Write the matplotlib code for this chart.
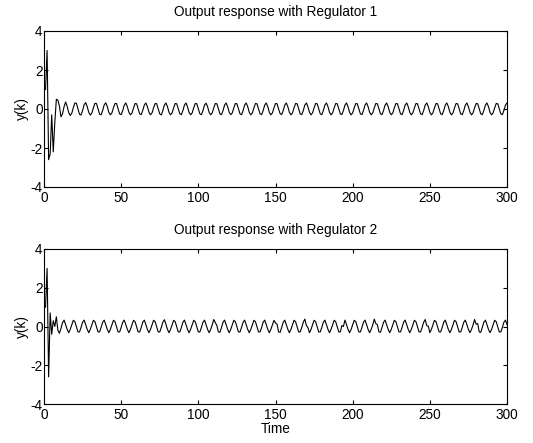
import numpy as np
import matplotlib
matplotlib.use('Agg')
import matplotlib.pyplot as plt

plt.rcParams['font.family'] = ['Liberation Sans', 'DejaVu Sans']
plt.rcParams['font.size'] = 9.8
plt.rcParams['axes.unicode_minus'] = False

# y(k), regulator 1
y1 = [1.0, 3.0, -2.6, -2.3, -0.3, -2.2, -0.7, 0.5, 0.45, 0.15, -0.4, -0.25, 0.12, 0.36,
      0.14, -0.18, -0.33, -0.22, 0.07, 0.31, 0.29, 0.01, -0.27, -0.31, -0.08, 0.22, 0.33,
      0.12, -0.17, -0.31, -0.21, 0.06, 0.29, 0.28, 0.00, -0.26, -0.30, -0.08, 0.21, 0.32,
      0.13, -0.17, -0.30, -0.20, 0.06, 0.28, 0.28, 0.01, -0.25, -0.29, -0.08, 0.20, 0.31,
      0.12, -0.17, -0.30, -0.21, 0.05, 0.28, 0.27, 0.00, -0.25, -0.29, -0.07, 0.20, 0.31,
      0.12, -0.16, -0.30, -0.20, 0.06, 0.28, 0.27, 0.00, -0.25, -0.30, -0.08, 0.20, 0.31,
      0.12, -0.17, -0.30, -0.20, 0.06, 0.28, 0.27, 0.00, -0.25, -0.29, -0.08, 0.20, 0.31,
      0.11, -0.17, -0.30, -0.20, 0.06, 0.28, 0.27, 0.01, -0.25, -0.29, -0.08, 0.20, 0.30,
      0.12, -0.17, -0.30, -0.20, 0.06, 0.28, 0.27, 0.00, -0.25, -0.29, -0.08, 0.20, 0.31,
      0.12, -0.17, -0.29, -0.20, 0.06, 0.28, 0.27, 0.00, -0.25, -0.29, -0.08, 0.20, 0.31,
      0.12, -0.17, -0.30, -0.20, 0.05, 0.28, 0.27, 0.00, -0.25, -0.29, -0.08, 0.20, 0.31,
      0.12, -0.17, -0.30, -0.20, 0.06, 0.28, 0.27, 0.00, -0.24, -0.29, -0.08, 0.20, 0.31,
      0.12, -0.17, -0.30, -0.20, 0.06, 0.28, 0.27, 0.00, -0.25, -0.29, -0.08, 0.20, 0.31,
      0.12, -0.17, -0.30, -0.20, 0.06, 0.28, 0.27, 0.00, -0.25, -0.29, -0.08, 0.20, 0.31,
      0.12, -0.17, -0.30, -0.20, 0.06, 0.28, 0.27, 0.00, -0.25, -0.29, -0.08, 0.20, 0.31,
      0.12, -0.17, -0.30, -0.20, 0.06, 0.28, 0.27, 0.00, -0.25, -0.29, -0.08, 0.20, 0.31,
      0.12, -0.17, -0.30, -0.20, 0.06, 0.28, 0.27, 0.00, -0.25, -0.29, -0.08, 0.20, 0.31,
      0.12, -0.17, -0.30, -0.20, 0.06, 0.28, 0.27, 0.00, -0.25, -0.29, -0.08, 0.20, 0.31,
      0.12, -0.17, -0.30, -0.20, 0.06, 0.28, 0.27, 0.00, -0.25, -0.29, -0.08, 0.20, 0.31,
      0.12, -0.17, -0.30, -0.20, 0.06, 0.28, 0.27, 0.00, -0.25, -0.29, -0.08, 0.20, 0.31,
      0.12, -0.17, -0.30, -0.20, 0.06, 0.28, 0.27, 0.00, -0.25, -0.29, -0.08, 0.20, 0.31,
      0.12, -0.17, -0.30, -0.20, 0.06, 0.28, 0.27, 0.00, -0.25, -0.29, -0.08, 0.20, 0.31,
      0.12, -0.17, -0.30, -0.20, 0.06, 0.28, 0.27, 0.00, -0.25, -0.29, -0.08, 0.20, 0.31]

# y(k), regulator 2
y2 = [1.0, 3.0, -2.6, 0.7, -0.4, 0.3, 0.0, 0.5, -0.2, -0.35, -0.1, 0.2, 0.33, 0.1,
      -0.15, -0.32, -0.15, 0.08, 0.32, 0.25, -0.02, -0.28, -0.28, -0.05, 0.22, 0.33, 0.10,
      -0.15, -0.32, -0.15, 0.08, 0.32, 0.25, -0.02, -0.28, -0.28, -0.05, 0.22, 0.33, 0.10,
      -0.15, -0.32, -0.15, 0.08, 0.32, 0.25, -0.02, -0.28, -0.28, -0.05, 0.22, 0.33, 0.10,
      -0.15, -0.32, -0.15, 0.08, 0.32, 0.25, -0.02, -0.28, -0.28, -0.05, 0.22, 0.33, 0.10,
      -0.15, -0.32, -0.15, 0.08, 0.32, 0.25, -0.02, -0.28, -0.28, -0.05, 0.22, 0.35, 0.12,
      -0.15, -0.32, -0.15, 0.08, 0.32, 0.25, -0.02, -0.28, -0.28, -0.05, 0.22, 0.33, 0.10,
      -0.15, -0.32, -0.15, 0.08, 0.32, 0.25, -0.02, -0.28, -0.28, -0.05, 0.22, 0.33, 0.10,
      -0.15, -0.32, -0.15, 0.08, 0.36, 0.20, 0.05, -0.28, -0.30, -0.05, 0.22, 0.33, 0.10,
      -0.15, -0.32, -0.15, 0.08, 0.32, 0.25, -0.02, -0.28, -0.28, -0.05, 0.22, 0.33, 0.10,
      -0.15, -0.32, -0.15, 0.08, 0.32, 0.25, -0.02, -0.28, -0.28, -0.05, 0.22, 0.33, 0.10,
      -0.15, -0.32, -0.15, 0.08, 0.32, 0.18, 0.12, -0.28, -0.30, -0.05, 0.22, 0.33, 0.10,
      -0.15, -0.32, -0.15, 0.08, 0.32, 0.25, -0.02, -0.28, -0.28, -0.05, 0.22, 0.38, 0.05,
      -0.05, -0.32, -0.15, 0.08, 0.32, 0.25, -0.02, -0.28, -0.28, -0.05, 0.22, 0.33, 0.10,
      -0.15, -0.32, -0.15, 0.08, 0.32, 0.25, -0.02, -0.28, -0.28, 0.05, 0.00, 0.33, 0.10,
      -0.15, -0.32, -0.15, 0.08, 0.32, 0.25, -0.02, -0.28, -0.28, -0.05, 0.22, 0.33, 0.10,
      -0.15, -0.32, -0.15, 0.08, 0.38, 0.15, 0.10, -0.28, -0.30, -0.05, 0.22, 0.33, 0.10,
      -0.15, -0.32, -0.15, 0.08, 0.32, 0.25, -0.02, -0.28, -0.28, -0.05, 0.22, 0.33, 0.10,
      -0.15, -0.32, -0.15, 0.08, 0.32, 0.25, -0.02, -0.28, -0.28, -0.05, 0.22, 0.36, 0.04,
      0.02, -0.32, -0.15, 0.08, 0.32, 0.25, -0.02, -0.28, -0.28, -0.05, 0.22, 0.33, 0.10,
      -0.15, -0.32, -0.15, 0.08, 0.32, 0.25, -0.02, -0.28, -0.28, -0.05, 0.22, 0.33, 0.10,
      -0.15, -0.32, -0.15, 0.08, 0.36, 0.12, 0.15, -0.28, -0.30, -0.05, 0.22, 0.33, 0.10,
      -0.15, -0.32, -0.15, 0.08, 0.32, 0.25, -0.02, -0.28, -0.28, -0.05, 0.22, 0.33, 0.10]

titles = ['Output response with Regulator 1', 'Output response with Regulator 2']
xticks = [0, 50, 100, 150, 200, 250, 300]
yticks = [-4, -2, 0, 2, 4]

fig = plt.figure(figsize=(5.33, 4.43), dpi=100)
ax1 = fig.add_axes([44/533, 1-187/443, 463/533, 156/443])
ax2 = fig.add_axes([44/533, 1-404/443, 463/533, 155/443])

for ax, y, title in zip([ax1, ax2], [y1, y2], titles):
    k = np.arange(1, len(y) + 1)
    ax.plot(k, y, color='k', linewidth=0.8)
    ax.set_xlim(0, 300)
    ax.set_ylim(-4, 4)
    ax.set_xticks(xticks)
    ax.set_yticks(yticks)
    ax.tick_params(direction='in', top=True, right=True, length=3)
    ax.tick_params(axis='x', pad=3)
    ax.tick_params(axis='y', pad=1)
    ax.set_ylabel('y(k)', labelpad=1)
    ax.set_title(title, fontsize=9.8, pad=11)
    for s in ax.spines.values():
        s.set_linewidth(0.8)

ax2.set_xlabel('Time', labelpad=0)

fig.savefig('out.png', dpi=100)
